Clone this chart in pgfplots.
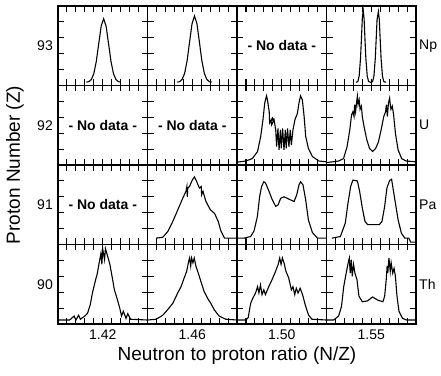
\documentclass[border=0pt]{standalone}
\usepackage{fontspec}
\setmainfont{Liberation Sans}
\usepackage{pgfplots}
\pgfplotsset{compat=1.18}
\usepgfplotslibrary{groupplots}
\pgfplotsset{
 cA/.style={xmin=1.40,xmax=1.44,xtick={1.404,1.408,1.412,1.416,1.42,1.424,1.428,1.432,1.436}},
 cB/.style={xmin=1.44,xmax=1.48,xtick={1.444,1.448,1.452,1.456,1.46,1.464,1.468,1.472,1.476}},
 cC/.style={xmin=1.48,xmax=1.52,xtick={1.484,1.488,1.492,1.496,1.50,1.504,1.508,1.512,1.516}},
 cD/.style={xmin=1.53,xmax=1.57,xtick={1.534,1.538,1.542,1.546,1.55,1.554,1.558,1.562,1.566}},
}
\newcommand{\lab}{\fontsize{14}{16}\selectfont}
\newcommand{\nodata}{\node[font=\lab\bfseries] at (rel axis cs:0.5,0.5) {- No data -};}
\begin{document}
\begin{tikzpicture}
\begin{groupplot}[
 group style={group size=4 by 4, horizontal sep=0pt, vertical sep=0pt},
 width=89.5pt, height=79.5pt, scale only axis, clip=false,
 ymin=0, ymax=1, ytick={0.2,0.4,0.6,0.8}, yticklabels={}, xticklabels={},
 tick align=inside, tick pos=both,
 major tick length=6pt,
 axis line style={line width=1.4pt},
 every tick/.style={line width=1.1pt, black},
 tick label style={font=\lab},
 xticklabel style={yshift=-2pt},
 cycle list={{black,mark=none}},
 every axis plot post/.append style={line width=1.1pt},
]
% ---------- row Np (93)
\nextgroupplot[cA]
\addplot coordinates {(1.4127,0.042)(1.4138,0.049)(1.4149,0.075)(1.4160,0.148)(1.4171,0.30)(1.4182,0.525)(1.4193,0.746)(1.4204,0.84)(1.4215,0.746)(1.4226,0.525)(1.4237,0.30)(1.4248,0.148)(1.4259,0.075)(1.4270,0.049)(1.4281,0.042)};
\node[anchor=east,inner sep=0pt,font=\lab] at ([xshift=-5pt]rel axis cs:0,0.5) {93};
\nextgroupplot[cB]
\addplot coordinates {(1.4533,0.042)(1.4544,0.049)(1.4555,0.077)(1.4566,0.153)(1.4577,0.311)(1.4588,0.546)(1.4599,0.777)(1.4610,0.875)(1.4621,0.777)(1.4632,0.546)(1.4643,0.311)(1.4654,0.153)(1.4665,0.077)(1.4676,0.049)(1.4687,0.042)};
\nextgroupplot[cC]
\nodata
\nextgroupplot[cD]
\addplot coordinates {(1.5432,0.04)(1.5440,0.05)(1.5446,0.12)(1.5452,0.34)(1.5456,0.58)(1.5460,0.84)(1.5464,0.95)(1.5468,0.84)(1.5472,0.58)(1.5476,0.34)(1.5482,0.12)(1.5488,0.05)(1.5498,0.04)(1.5506,0.05)(1.5512,0.12)(1.5518,0.34)(1.5522,0.58)(1.5526,0.83)(1.5532,0.93)(1.5536,0.83)(1.5540,0.58)(1.5544,0.34)(1.5550,0.12)(1.5556,0.05)(1.5566,0.04)};
\node[anchor=west,inner sep=0pt,font=\lab] at ([xshift=3pt]rel axis cs:1,0.5) {Np};
% ---------- row U (92)
\nextgroupplot[cA]
\nodata
\node[anchor=east,inner sep=0pt,font=\lab] at ([xshift=-5pt]rel axis cs:0,0.5) {92};
\nextgroupplot[cB]
\nodata
\nextgroupplot[cC]
\addplot coordinates {(1.4800,0.035)(1.4839,0.05)(1.4868,0.08)(1.4892,0.17)(1.4906,0.36)(1.4916,0.57)(1.4924,0.78)(1.4932,0.87)(1.4936,0.82)(1.4944,0.67)(1.4946,0.53)(1.4950,0.55)(1.4958,0.59)(1.4962,0.55)(1.4955,0.505)(1.4952,0.56)(1.4965,0.58)(1.4973,0.44)(1.4977,0.23)(1.4983,0.46)(1.4988,0.19)(1.4994,0.44)(1.4998,0.21)(1.5004,0.46)(1.5010,0.19)(1.5016,0.44)(1.5020,0.21)(1.5026,0.46)(1.5032,0.23)(1.5038,0.44)(1.5043,0.25)(1.5050,0.44)(1.5059,0.57)(1.5070,0.65)(1.5077,0.78)(1.5084,0.87)(1.5092,0.82)(1.5100,0.61)(1.5107,0.36)(1.5119,0.21)(1.5137,0.106)(1.5166,0.05)(1.5200,0.04)};
\nextgroupplot[cD]
\addplot coordinates {(1.5300,0.03)(1.5354,0.05)(1.5376,0.08)(1.5392,0.23)(1.5404,0.44)(1.5412,0.63)(1.5418,0.67)(1.5423,0.61)(1.5426,0.76)(1.5430,0.67)(1.5435,0.80)(1.5438,0.865)(1.5441,0.76)(1.5446,0.82)(1.5450,0.70)(1.5456,0.74)(1.5460,0.61)(1.5468,0.48)(1.5480,0.32)(1.5492,0.21)(1.5506,0.17)(1.5520,0.21)(1.5532,0.29)(1.5544,0.44)(1.5556,0.61)(1.5564,0.67)(1.5568,0.76)(1.5572,0.61)(1.5577,0.78)(1.5582,0.84)(1.5585,0.76)(1.5588,0.70)(1.5594,0.74)(1.5600,0.63)(1.5608,0.40)(1.5620,0.19)(1.5636,0.08)(1.5656,0.05)(1.5700,0.04)};
\node[anchor=west,inner sep=0pt,font=\lab] at ([xshift=3pt]rel axis cs:1,0.5) {U};
% ---------- row Pa (91)
\nextgroupplot[cA]
\nodata
\node[anchor=east,inner sep=0pt,font=\lab] at ([xshift=-5pt]rel axis cs:0,0.5) {91};
\nextgroupplot[cB]
\addplot coordinates {(1.4439,0.08)(1.4468,0.09)(1.4491,0.165)(1.4513,0.29)(1.4536,0.44)(1.4558,0.585)(1.4572,0.67)(1.4576,0.73)(1.4578,0.60)(1.4580,0.71)(1.4588,0.73)(1.4600,0.81)(1.4610,0.85)(1.4620,0.79)(1.4632,0.71)(1.4640,0.73)(1.4642,0.625)(1.4648,0.67)(1.4660,0.55)(1.4680,0.44)(1.4700,0.39)(1.4716,0.29)(1.4728,0.17)(1.4744,0.08)(1.4768,0.08)(1.4800,0.08)};
\nextgroupplot[cC]
\addplot coordinates {(1.4800,0.08)(1.4831,0.08)(1.4861,0.10)(1.4876,0.17)(1.4891,0.35)(1.4901,0.60)(1.4910,0.73)(1.4920,0.79)(1.4928,0.77)(1.4943,0.67)(1.4958,0.56)(1.4973,0.48)(1.4984,0.50)(1.4995,0.58)(1.5010,0.60)(1.5025,0.58)(1.5040,0.56)(1.5055,0.54)(1.5067,0.625)(1.5077,0.75)(1.5084,0.79)(1.5095,0.75)(1.5107,0.56)(1.5119,0.31)(1.5137,0.15)(1.5160,0.08)(1.5200,0.08)};
\nextgroupplot[cD]
\addplot coordinates {(1.5324,0.08)(1.5362,0.10)(1.5384,0.27)(1.5396,0.52)(1.5408,0.73)(1.5418,0.81)(1.5438,0.80)(1.5448,0.67)(1.5460,0.46)(1.5472,0.29)(1.5484,0.25)(1.5536,0.25)(1.5548,0.29)(1.5560,0.48)(1.5570,0.71)(1.5580,0.79)(1.5584,0.81)(1.5591,0.82)(1.5596,0.73)(1.5608,0.52)(1.5620,0.31)(1.5635,0.14)(1.5650,0.08)(1.5668,0.08)(1.5676,0.03)(1.5700,0.03)};
\node[anchor=west,inner sep=0pt,font=\lab] at ([xshift=3pt]rel axis cs:1,0.5) {Pa};
% ---------- row Th (90)
\nextgroupplot[cA, xticklabels={,,,,1.42,,,,}]
\addplot coordinates {(1.4000,0.05)(1.4052,0.05)(1.4072,0.10)(1.4080,0.05)(1.4092,0.11)(1.4100,0.06)(1.4120,0.10)(1.4132,0.135)(1.4144,0.24)(1.4154,0.39)(1.4164,0.51)(1.4176,0.64)(1.4184,0.77)(1.4192,0.89)(1.4196,0.75)(1.4200,0.94)(1.4208,0.81)(1.4212,0.95)(1.4220,0.87)(1.4232,0.75)(1.4244,0.56)(1.4252,0.43)(1.4264,0.32)(1.4276,0.20)(1.4284,0.10)(1.4292,0.16)(1.4304,0.07)(1.4312,0.13)(1.4324,0.06)(1.4400,0.05)};
\node[anchor=east,inner sep=0pt,font=\lab] at ([xshift=-5pt]rel axis cs:0,0.5) {90};
\nextgroupplot[cB, xticklabels={,,,,1.46,,,,}]
\addplot coordinates {(1.4400,0.05)(1.4439,0.06)(1.4468,0.11)(1.4490,0.18)(1.4513,0.26)(1.4535,0.39)(1.4550,0.47)(1.4564,0.58)(1.4575,0.66)(1.4584,0.79)(1.4588,0.83)(1.4593,0.73)(1.4597,0.83)(1.4603,0.77)(1.4609,0.83)(1.4616,0.73)(1.4627,0.64)(1.4638,0.54)(1.4653,0.41)(1.4668,0.325)(1.4683,0.26)(1.4698,0.18)(1.4720,0.10)(1.4750,0.06)(1.4800,0.05)};
\nextgroupplot[cC, xticklabels={,,,,1.50,,,,}]
\addplot coordinates {(1.4800,0.05)(1.4839,0.05)(1.4850,0.08)(1.4861,0.26)(1.4871,0.325)(1.4883,0.39)(1.4892,0.47)(1.4898,0.39)(1.4905,0.49)(1.4912,0.37)(1.4920,0.43)(1.4927,0.37)(1.4942,0.47)(1.4957,0.56)(1.4972,0.66)(1.4984,0.75)(1.4991,0.83)(1.4997,0.75)(1.5003,0.83)(1.5010,0.77)(1.5019,0.66)(1.5031,0.58)(1.5043,0.43)(1.5050,0.47)(1.5058,0.37)(1.5065,0.45)(1.5073,0.39)(1.5082,0.45)(1.5093,0.37)(1.5105,0.24)(1.5120,0.11)(1.5135,0.06)(1.5200,0.05)};
\nextgroupplot[cD, xticklabels={,,,,1.55,,,,}]
\addplot coordinates {(1.5300,0.05)(1.5332,0.05)(1.5354,0.10)(1.5367,0.22)(1.5377,0.47)(1.5388,0.64)(1.5397,0.77)(1.5402,0.83)(1.5406,0.64)(1.5411,0.81)(1.5415,0.60)(1.5421,0.75)(1.5427,0.64)(1.5436,0.56)(1.5445,0.35)(1.5460,0.28)(1.5483,0.29)(1.5506,0.34)(1.5529,0.30)(1.5552,0.28)(1.5560,0.35)(1.5567,0.56)(1.5571,0.73)(1.5574,0.64)(1.5579,0.83)(1.5585,0.66)(1.5589,0.77)(1.5596,0.64)(1.5602,0.70)(1.5608,0.60)(1.5615,0.35)(1.5624,0.16)(1.5640,0.07)(1.5658,0.05)(1.5700,0.05)};
\node[anchor=west,inner sep=0pt,font=\lab] at ([xshift=3pt]rel axis cs:1,0.5) {Th};
\end{groupplot}
\node[rotate=90, anchor=south, inner sep=0pt, font=\fontsize{19}{22}\selectfont] at ([xshift=-34pt]group c1r2.south west) {Proton Number (Z)};
\node[anchor=north, inner sep=0pt, font=\fontsize{19}{22}\selectfont] at ([yshift=-23pt]group c2r4.south east) {Neutron to proton ratio (N/Z)};
\pgfresetboundingbox
\path[use as bounding box] ([xshift=-58pt,yshift=6pt]group c1r1.north west) rectangle ([xshift=25pt,yshift=-52pt]group c4r4.south east);
\end{tikzpicture}
\end{document}
